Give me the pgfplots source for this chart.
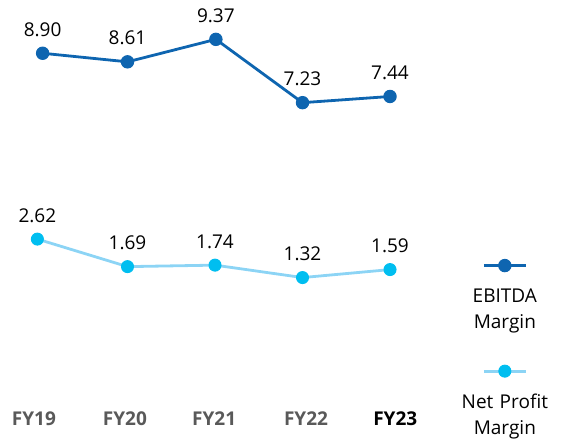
\documentclass[border=0pt]{standalone}
\usepackage{pgfplots}
\pgfplotsset{compat=1.18}
\usepackage{fontspec}
\setmainfont{Open Sans}
\definecolor{ebitda}{RGB}{14,101,176}
\definecolor{npline}{RGB}{140,212,245}
\definecolor{npmark}{RGB}{0,190,240}
\definecolor{lblgray}{RGB}{89,89,89}
\begin{document}
\begin{tikzpicture}
\begin{axis}[
  at={(0pt,0pt)}, anchor=south west,
  scale only axis, width=440pt, height=443pt,
  xmin=-0.457, xmax=4.571, ymin=-4.27, ymax=10.70,
  axis line style={draw=none},
  major tick length=0pt,
  ytick=\empty,
  xtick={-0.07,0.97,1.99,3.04,4.06},
  xticklabels={FY19,FY20,FY21,FY22,\textcolor{black}{FY23}},
  xticklabel style={font=\fontsize{19}{22}\selectfont\bfseries, text=lblgray, anchor=base, inner sep=0pt, yshift=17pt},
  clip=false,
  /pgf/number format/assume math mode=true,
  every node near coord/.append style={font=\fontsize{19}{22}\selectfont, text=black, anchor=base, inner sep=0pt, yshift=17pt},
  legend style={draw=none, fill=none, inner sep=0pt, outer sep=0pt,
    at={(rel axis cs:1.011,0.3476)}, anchor=north west, row sep=90pt,
    nodes={font=\fontsize{19}{26}\selectfont, text width=120pt, align=center, inner sep=0pt},
    /tikz/every even column/.style={column sep=0pt}},
  legend cell align=left,
  legend image code/.code={
    \draw[overlay, mark repeat=2, mark phase=2, #1] plot coordinates {(39pt,31pt) (60pt,31pt) (81pt,31pt)};
  },
]
\addplot[ebitda, line width=2.8pt, mark=*, mark size=6.2pt, mark options={draw=ebitda, fill=ebitda, line width=1pt},
  nodes near coords={\pgfmathprintnumber[fixed,fixed zerofill,precision=2]{\pgfplotspointmeta}}]
  coordinates {(0.03,8.90) (1,8.61) (2.01,9.37) (3,7.23) (4,7.44)};
\addlegendentry{EBITDA\\Margin}
\addplot[npline, line width=2.8pt, mark=*, mark size=6.0pt, mark options={draw=npmark, fill=npmark, line width=1pt},
  nodes near coords={\pgfmathprintnumber[fixed,fixed zerofill,precision=2]{\pgfplotspointmeta}}]
  coordinates {(-0.03,2.62) (1,1.69) (2,1.74) (3,1.32) (4,1.59)};
\addlegendentry{Net Profit\\Margin}
\end{axis}
\pgfresetboundingbox
\useasboundingbox (0,0) rectangle (568pt,443pt);
\end{tikzpicture}
\end{document}
